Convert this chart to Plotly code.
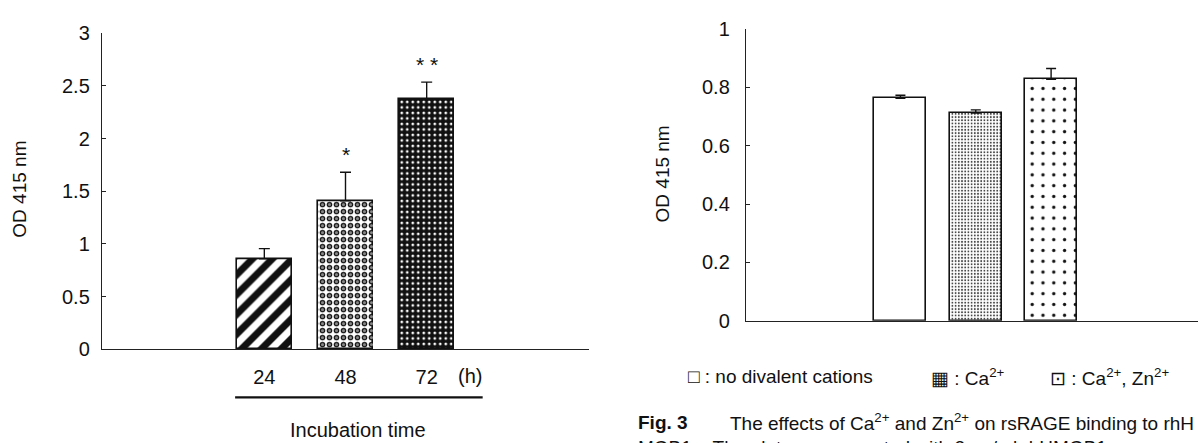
import plotly.graph_objects as go

# ---- data -------------------------------------------------------------
hours = ["24", "48", "72"]
od_time = [0.86, 1.41, 2.37]
sd_time = [0.095, 0.27, 0.165]
sig_time = ["", "*", "* *"]

cation_groups = ["no divalent cations", "Ca<sup>2+</sup>", "Ca<sup>2+</sup>, Zn<sup>2+</sup>"]
od_cation = [0.763, 0.712, 0.828]
sd_cation = [0.010, 0.011, 0.037]

left_ticks = [0, 0.5, 1, 1.5, 2, 2.5, 3]
left_ticktext = ["0", "0.5", "1", "1.5", "2", "2.5", "3"]
right_ticks = [0, 0.2, 0.4, 0.6, 0.8, 1]
right_ticktext = ["0", "0.2", "0.4", "0.6", "0.8", "1"]

# ---- layout helpers ----------------------------------------------------
W, H = 1198, 443
FONT = "Liberation Sans, Arial, sans-serif"


def px_x(p):
    return p / W


def px_y(p):
    return (H - p) / H


slots_left = [i + 2 for i in range(len(hours))]
slots_right = [i + 2 for i in range(len(cation_groups))]
BLACK = "#111111"
CLEAR = "rgba(0,0,0,0)"

# fill style per bar: (background, pattern shape, pattern colour, size, solidity)
left_fill = [
    ("white", "/", BLACK, 14, 0.5),
    ("white", ".", BLACK, 7, 0.5),
    (BLACK, ".", "white", 5.5, 0.2),
]
right_fill = [
    ("white", "", BLACK, 8, 0.3),
    ("white", ".", "#444444", 3.2, 0.28),
    ("white", ".", BLACK, 10.8, 0.075),
]

fig = go.Figure()


def add_bars(slots, values, errs, fills, width, xa, ya, cap):
    for i, (s, v) in enumerate(zip(slots, values)):
        bg, shape, fg, size, sol = fills[i]
        pattern = dict(shape=shape, fgcolor=fg, bgcolor=bg, size=size,
                       solidity=sol, fillmode="replace") if shape else None
        fig.add_trace(go.Bar(
            x=[s], y=[v], width=width, xaxis=xa, yaxis=ya,
            marker=dict(color=bg, line=dict(width=0), pattern=pattern),
            showlegend=False, hoverinfo="skip",
        ))
    # outlines and upward error bars on top of the fills
    fig.add_trace(go.Bar(
        x=slots, y=values, width=width, xaxis=xa, yaxis=ya,
        marker=dict(color=CLEAR, line=dict(color=BLACK, width=1.6)),
        error_y=dict(type="data", symmetric=False, array=errs,
                     arrayminus=[0] * len(errs), color=BLACK,
                     thickness=1.4, width=cap),
        showlegend=False, hoverinfo="skip",
    ))


add_bars(slots_left, od_time, sd_time, left_fill, 0.67, "x", "y", 5.5)
# white centres turn the 48 h dots into small rings
fig.add_trace(go.Bar(
    x=[slots_left[1]], y=[od_time[1]], width=0.67, xaxis="x", yaxis="y",
    marker=dict(color=CLEAR, line=dict(width=0),
                pattern=dict(shape=".", fgcolor="white", bgcolor=CLEAR,
                             size=7, solidity=0.16, fillmode="overlay")),
    showlegend=False, hoverinfo="skip",
))
add_bars(slots_right, od_cation, sd_cation, right_fill, 0.69, "x2", "y2", 5)

axis_common = dict(showgrid=False, zeroline=False, showline=True,
                   linecolor="#222222", linewidth=1.4, fixedrange=True)


def txt(x, y, text, size=19, xref="paper", yref="paper", **kw):
    d = dict(x=x, y=y, xref=xref, yref=yref, text=text, showarrow=False,
             xanchor="center", yanchor="middle",
             font=dict(size=size, color=BLACK, family=FONT))
    d.update(kw)
    return d


annotations = []
# significance marks
for s, m, e, lbl in zip(slots_left, od_time, sd_time, sig_time):
    if lbl:
        annotations.append(txt(s, m + e, lbl, size=21, xref="x", yref="y",
                               yanchor="bottom", yshift=4))

annotations += [
    txt(4.53, px_y(384), "(h)", size=20, xref="x"),
    txt(px_x(358), px_y(441), "Incubation time", size=20),
    txt(px_x(20), px_y(188), "OD 415 nm", textangle=-90),
    txt(px_x(662), px_y(172), "OD 415 nm", textangle=-90),
]

# legend row under the right panel
legend_items = [("\u25a1", cation_groups[0], 686),
                ("\u25a6", cation_groups[1], 929),
                ("\u22a1", cation_groups[2], 1048)]
for glyph, name, xp in legend_items:
    annotations.append(txt(px_x(xp), px_y(385), f"{glyph} : {name}",
                           xanchor="left"))

# caption
annotations += [
    txt(px_x(636), px_y(433), "<b>Fig. 3</b>", xanchor="left"),
    txt(px_x(728), px_y(433),
        "The effects of Ca<sup>2+</sup> and Zn<sup>2+</sup> on rsRAGE binding to rhH",
        xanchor="left"),
    txt(px_x(636), px_y(459),
        "MGB1.   The plates were coated with 2 \u00b5g/ml rhHMGB1",
        xanchor="left"),
]

fig.update_layout(
    width=W, height=H,
    margin=dict(l=0, r=0, t=0, b=0),
    paper_bgcolor="white", plot_bgcolor="white",
    barmode="overlay", bargap=0,
    font=dict(family=FONT, color=BLACK),
    xaxis=dict(domain=[px_x(102), px_x(589)], range=[0, 6], anchor="y",
               tickvals=slots_left, ticktext=hours, ticks="",
               ticklabelstandoff=9,
               tickfont=dict(size=20, color=BLACK), **axis_common),
    # end tick on the time axis
    xaxis3=dict(domain=[px_x(102), px_x(589)], range=[0, 6], anchor="y",
                overlaying="x", showline=False, showgrid=False, zeroline=False,
                tickvals=[6], ticktext=[""], ticks="inside", ticklen=4,
                tickcolor="#222222", tickwidth=1.4, side="bottom"),
    yaxis=dict(domain=[px_y(356), px_y(23.3)], range=[0, 3], anchor="x",
               tickvals=left_ticks, ticktext=left_ticktext,
               ticks="inside", ticklen=4, tickcolor="#222222", tickwidth=1.4,
               ticklabelstandoff=7,
               tickfont=dict(size=20, color=BLACK), **axis_common),
    xaxis2=dict(domain=[px_x(746), 1.0], range=[-0.05, 5.95], anchor="y2",
                showticklabels=False, ticks="", **axis_common),
    yaxis2=dict(domain=[px_y(326), px_y(19)], range=[0, 1], anchor="x2",
                tickvals=right_ticks, ticktext=right_ticktext,
                ticks="inside", ticklen=4, tickcolor="#222222", tickwidth=1.4,
                ticklabelstandoff=11,
                tickfont=dict(size=20, color=BLACK), **axis_common),
    shapes=[dict(type="line", xref="x", yref="paper",
                 x0=1.64, x1=4.69, y0=px_y(406.5), y1=px_y(406.5),
                 line=dict(color=BLACK, width=2.2))],
    annotations=annotations,
)

fig.write_html("out.html")
